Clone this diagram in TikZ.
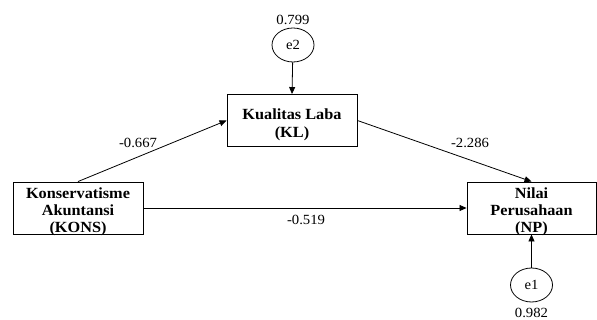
\documentclass[tikz,border=0pt]{standalone}
\usepackage{fontspec}
\setmainfont{Liberation Serif}[FakeStretch=1.05]
\usetikzlibrary{arrows.meta,shapes.geometric}
\begin{document}
\begin{tikzpicture}[x=1pt,y=-1pt,
  boxnode/.style={draw,line width=0.9pt,minimum width=130pt,minimum height=52pt,inner sep=0pt},
  boxtext/.style={inner sep=0pt,align=center,font=\fontsize{15.5}{16.8}\selectfont\bfseries},
  errnode/.style={draw,ellipse,line width=0.8pt,minimum width=42pt,minimum height=34pt,inner sep=0pt,font=\fontsize{14}{15}\selectfont},
  lbl/.style={font=\fontsize{14}{15}\selectfont,inner sep=0pt},
  conn/.style={line width=0.8pt,-{Triangle[length=7pt,width=6pt]}}]
\useasboundingbox (0,0) rectangle (597,320);
\node[boxnode] (kl) at (292,120.5) {};
\node[boxnode] (kons) at (78,208) {};
\node[boxnode,minimum width=129pt] (np) at (531.5,208) {};
\node[boxtext,font=\fontsize{15.5}{18}\selectfont\bfseries] (klt) at ([yshift=-4pt]kl.center) {Kualitas Laba\\(KL)};
\node[boxtext] (konst) at ([yshift=-4pt]kons.center) {Konservatisme\\Akuntansi\\(KONS)};
\node[boxtext] (npt) at ([yshift=-4pt]np.center) {Nilai\\Perusahaan\\(NP)};
\node[errnode] (e2) at (293,45) {e2};
\node[errnode] (e1) at (531.5,285) {e1};
\node[lbl] (v2) at (293,20) {0.799};
\node[lbl] (v1) at (531.5,312.5) {0.982};
\draw[conn] (e2) -- (kl.north);
\draw[conn] (e1) -- (np.south);
\draw[conn] (kons.north) -- (kl.west);
\draw[conn] (kl.east) -- (np.north);
\draw[conn] (kons.east) -- (np.west);
\node[lbl] (p1) at (138,143) {-0.667};
\node[lbl] (p2) at (470,143) {-2.286};
\node[lbl] (p3) at (306,220) {-0.519};
\end{tikzpicture}
\end{document}
